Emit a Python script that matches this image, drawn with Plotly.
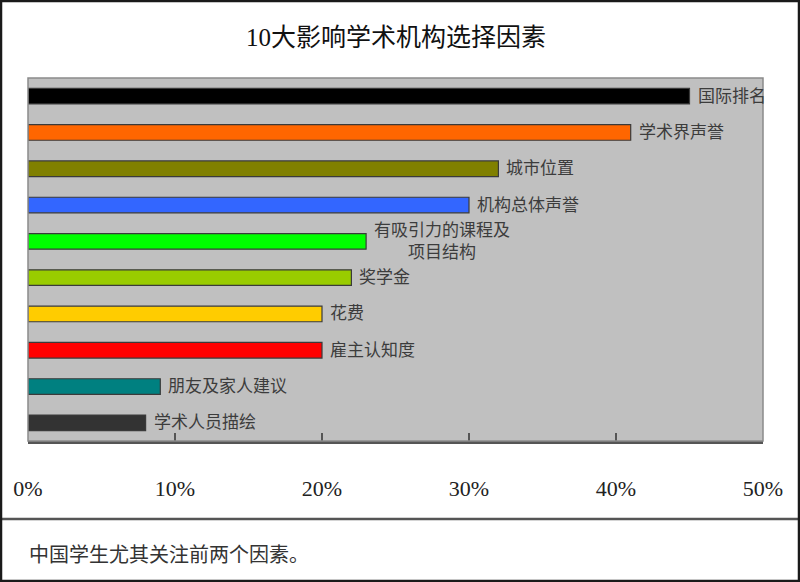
import plotly.graph_objects as go

categories = ["国际排名", "学术界声誉", "城市位置", "机构总体声誉", "有吸引力的课程及<br>项目结构",
              "奖学金", "花费", "雇主认知度", "朋友及家人建议", "学术人员描绘"]
values = [45, 41, 32, 30, 23, 22, 20, 20, 9, 8]
colors = ["#000000", "#FF6600", "#808000", "#3366FF", "#00FF00",
          "#99CC00", "#FFCC00", "#FF0000", "#008080", "#333333"]
tick_vals = [0, 10, 20, 30, 40, 50]
tick_text = ["0%", "10%", "20%", "30%", "40%", "50%"]
title_text = "10大影响学术机构选择因素"
footer_text = "中国学生尤其关注前两个因素。"

W, H = 800, 582
ML, MR, MT, MB = 28, 37, 78, 141
PW, PH = W - ML - MR, H - MT - MB

def px(x):
    return (x - ML) / PW

def py(y):
    return (H - MB - y) / PH

FONT = "Liberation Serif, Noto Sans CJK SC, serif"

fig = go.Figure()
fig.add_trace(go.Bar(
    y=list(range(len(categories))), x=values, orientation="h",
    marker=dict(color=colors, line=dict(color="#3a3a3a", width=1.2)),
    width=0.43, hoverinfo="skip",
))

for i, (c, v) in enumerate(zip(categories, values)):
    fig.add_annotation(x=v, y=i, text=c, showarrow=False, xanchor="left", yanchor="middle",
                       xshift=6, align="center",
                       font=dict(family=FONT, size=17, color="#3c3c3c"))

fig.add_annotation(xref="paper", yref="paper", x=px(27), y=py(555), text=footer_text,
                   showarrow=False, xanchor="left", yanchor="middle",
                   font=dict(family=FONT, size=20, color="#333333"))

shapes = [
    dict(type="rect", xref="paper", yref="paper", x0=0, x1=1, y0=0, y1=1,
         line=dict(color="#8a8a8a", width=1.5), layer="above"),
    dict(type="line", xref="paper", yref="paper", x0=px(0), x1=px(800), y0=py(519), y1=py(519),
         line=dict(color="#555555", width=2.5)),
    dict(type="rect", xref="paper", yref="paper", x0=px(1), x1=px(799), y0=py(1), y1=py(581),
         line=dict(color="#1a1a1a", width=2.5)),
]

fig.update_layout(
    width=W, height=H,
    margin=dict(l=ML, r=MR, t=MT, b=MB),
    paper_bgcolor="white", plot_bgcolor="#C0C0C0",
    showlegend=False,
    title=dict(text=title_text, x=396 / W, xref="container", xanchor="center",
               y=1 - 37 / H, yref="container", yanchor="middle",
               font=dict(family=FONT, size=25, color="#111111")),
    xaxis=dict(range=[0, 50], tickvals=tick_vals, ticktext=tick_text, ticks="inside",
               ticklen=8, tickwidth=2, tickcolor="#555555", showgrid=False, zeroline=False,
               showline=True, linecolor="#555555", linewidth=2.5, ticklabelstandoff=26,
               tickfont=dict(family=FONT, size=22, color="#222222"), fixedrange=True),
    yaxis=dict(range=[len(categories) - 0.5, -0.5], showticklabels=False, ticks="",
               showgrid=False, zeroline=False, fixedrange=True),
    shapes=shapes,
)

fig.write_html("out.html")
